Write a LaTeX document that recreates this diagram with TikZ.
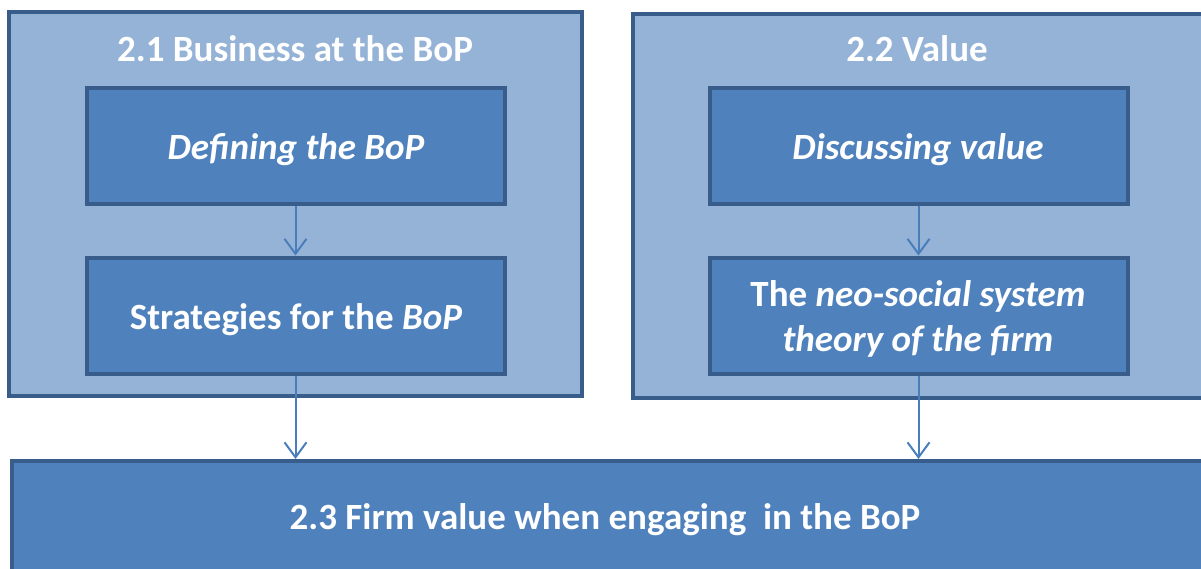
\documentclass[tikz,border=0pt]{standalone}
\usepackage{fontspec}
\setmainfont{Carlito}
\usetikzlibrary{arrows.meta}
\definecolor{outerfill}{HTML}{95B3D7}
\definecolor{edge}{HTML}{385D8A}
\definecolor{innerfill}{HTML}{4F81BD}
\definecolor{arrowc}{HTML}{4A7EBB}
\tikzset{
  outerbox/.style={draw=edge, fill=outerfill, line width=4pt, inner sep=0pt},
  innerbox/.style={draw=edge, fill=innerfill, line width=4pt, inner sep=0pt,
    minimum width=418pt, minimum height=116pt},
  bottombox/.style={draw=edge, fill=innerfill, line width=4pt, inner sep=0pt},
  label/.style={text=white, font=\fontsize{37}{45}\selectfont\bfseries, inner sep=0pt, align=center},
  arr/.style={draw=arrowc, line width=2pt, -{Straight Barb[length=15pt,width=22pt,line width=2pt]}}
}
\begin{document}
\begin{tikzpicture}[x=1pt,y=-1pt]
\clip (0,0) rectangle (1201,568);
% outer boxes
\node[outerbox, minimum width=573pt, minimum height=384pt] (L) at (295.5,204) {};
\node[outerbox, minimum width=600pt, minimum height=384pt, anchor=north west] (R) at (631,12) {};
% bottom box
\node[bottombox, minimum width=1220pt, minimum height=140pt, anchor=north west] (B) at (10,459) {};
% titles
\node[label] (Lt) at (295,49) {2.1 Business at the BoP};
\node[label] (Rt) at (917,49) {2.2 Value};
\node[label] (Bt) at (605,520) {2.3 Firm value when engaging \ in the BoP};
% inner boxes
\node[innerbox] (L1) at (295.5,145.5) {};
\node[innerbox] (L2) at (295.5,315.5) {};
\node[innerbox] (R1) at (918.5,145.5) {};
\node[innerbox] (R2) at (918.5,315.5) {};
% inner texts
\node[label, anchor=base] (L1t) at (296,159) {\itshape Defining the BoP};
\node[label, anchor=base] (L2t) at (296,329) {Strategies for the \textit{BoP}};
\node[label, anchor=base] (R1t) at (918,159) {\itshape Discussing value};
\node[label, anchor=base] (R2t) at (918,306) {The \textit{neo-social system}};
\node[label, anchor=base] (R2u) at (918,351) {\textit{theory of the firm}};
% arrows
\draw[arr] (L1.south) -- (L2.north);
\draw[arr] (R1.south) -- (R2.north);
\draw[arr] (L2.south) -- (L2.south |- B.north);
\draw[arr] (R2.south) -- (R2.south |- B.north);
\end{tikzpicture}
\end{document}
